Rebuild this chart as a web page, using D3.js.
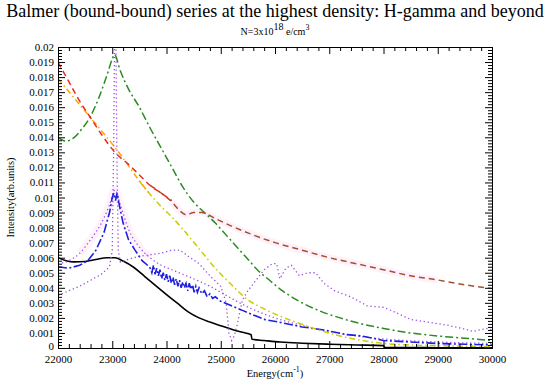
<!DOCTYPE html>
<html>
<head>
<meta charset="utf-8">
<script src="https://cdn.jsdelivr.net/npm/d3@7"></script>
<style>
  body { margin: 0; background: #fff; }
  svg { display: block; }
  .axis text { font-family: "Liberation Serif", serif; font-size: 11px; fill: #000; }
  .axis path, .axis line { stroke: #000; stroke-width: 1; }
</style>
</head>
<body>
<div id="chart"></div>
<script>
//Axis ticks and labels
var xMajorTicks = [22000, 23000, 24000, 25000, 26000, 27000, 28000, 29000, 30000];
var yMajorTicks = [0, 0.001, 0.002, 0.003, 0.004, 0.005, 0.006, 0.007, 0.008, 0.009, 0.01,
    0.011, 0.012, 0.013, 0.014, 0.015, 0.016, 0.017, 0.018, 0.019, 0.02];
var yTickLabels = ["0", "0.001", "0.002", "0.003", "0.004", "0.005", "0.006", "0.007", "0.008", "0.009", "0.01",
    "0.011", "0.012", "0.013", "0.014", "0.015", "0.016", "0.017", "0.018", "0.019", "0.02"];

//Series, each one as [energy, intensity] pairs
var blackSolid = [[22000, 0.0060], [22150, 0.00580], [22300, 0.00572], [22500, 0.00575], [22700, 0.00588],
    [22900, 0.00600], [23050, 0.00600], [23200, 0.00578], [23400, 0.00535], [23600, 0.00475], [23800, 0.00415],
    [24000, 0.00355], [24200, 0.00298], [24400, 0.00240], [24600, 0.00200], [24800, 0.00172], [25000, 0.00148],
    [25200, 0.00125], [25400, 0.00104], [25560, 0.00088], [25575, 0.00058], [25800, 0.00050], [26100, 0.00040],
    [26500, 0.00032], [27000, 0.00025], [27500, 0.00020], [28000, 0.00016], [28020, 0.00004], [28500, 0.00003],
    [29000, 0.00002], [30000, 0.00001]];

var redDashed = [[22000, 0.0190], [22200, 0.0177], [22400, 0.0164], [22600, 0.0153], [22800, 0.0142],
    [23050, 0.0130], [23300, 0.0122], [23500, 0.0115], [23700, 0.0108], [23900, 0.0103], [24100, 0.0098]];

var brownDashed = [[23700, 0.0108], [23900, 0.0103], [24100, 0.0097], [24250, 0.0091], [24370, 0.00885],
    [24500, 0.0090], [24650, 0.0090], [24900, 0.0086], [25200, 0.0081], [25500, 0.00765], [26000, 0.0070],
    [26500, 0.0065], [27000, 0.0060], [27500, 0.0056], [28000, 0.0052], [28500, 0.0048], [29000, 0.00452],
    [29500, 0.0042], [30000, 0.00395]];

var orangeDashDot = [[22000, 0.0179], [22300, 0.0166], [22600, 0.0153], [22900, 0.0140], [23100, 0.0131],
    [23300, 0.0121], [23500, 0.0111], [23700, 0.0102]];

var yellowDashDot = [[23500, 0.0111], [23700, 0.0102], [23900, 0.0094], [24100, 0.0087], [24300, 0.0079],
    [24600, 0.0066], [24900, 0.0053], [25200, 0.0042], [25500, 0.0032], [25800, 0.0026], [26100, 0.0021],
    [26400, 0.0017], [26800, 0.0012], [27200, 0.0008], [27600, 0.0005], [28000, 0.0003], [28500, 0.0002],
    [29000, 0.00015], [30000, 0.0001]];

var greenDashDot = [[22000, 0.0140], [22150, 0.01375], [22300, 0.0140], [22450, 0.0146], [22600, 0.0154],
    [22750, 0.0166], [22900, 0.0181], [23000, 0.0192], [23040, 0.0195], [23150, 0.0184], [23300, 0.0172],
    [23500, 0.0160], [23700, 0.0146], [23900, 0.0133], [24100, 0.0120], [24300, 0.0107], [24500, 0.0097],
    [24700, 0.0090], [24900, 0.0083], [25100, 0.0075], [25300, 0.0067], [25500, 0.0059], [25700, 0.0051],
    [25900, 0.0045], [26100, 0.0039], [26400, 0.0032], [26800, 0.0025], [27200, 0.0020], [27600, 0.0016],
    [28000, 0.0013], [28500, 0.0010], [29000, 0.0008], [29500, 0.00065], [30000, 0.0005]];

var blueDashDot = [[22000, 0.0054], [22200, 0.0053], [22400, 0.0055], [22550, 0.0058], [22700, 0.0065],
    [22850, 0.0077], [22950, 0.0090], [23000, 0.0100], [23030, 0.0103], [23060, 0.0098], [23090, 0.0103],
    [23130, 0.0095], [23200, 0.0083], [23300, 0.0072], [23420, 0.0065], [23550, 0.0058], [23650, 0.0055],
    [23700, 0.0053], [23730, 0.0050], [23760, 0.0055], [23790, 0.0049], [23820, 0.0053], [23850, 0.0048],
    [23880, 0.0052], [23910, 0.0046], [23940, 0.0050], [23970, 0.0045], [24000, 0.0049], [24030, 0.0044],
    [24060, 0.0048], [24090, 0.0043], [24120, 0.0047], [24150, 0.0042], [24180, 0.0046], [24210, 0.0041],
    [24240, 0.0045], [24270, 0.0040], [24300, 0.0044], [24330, 0.0040], [24360, 0.0043], [24390, 0.0038],
    [24420, 0.0043], [24450, 0.0039], [24480, 0.0042], [24510, 0.0037], [24540, 0.0041], [24570, 0.0037],
    [24600, 0.0040], [24650, 0.0036], [24700, 0.0038], [24750, 0.0034], [24800, 0.0036], [24850, 0.0033],
    [24900, 0.0034], [25000, 0.0031], [25200, 0.0028], [25400, 0.0025], [25600, 0.0022], [25800, 0.0019],
    [26100, 0.0017], [26500, 0.0014], [26900, 0.0012], [27300, 0.0009], [27600, 0.0008], [28000, 0.0005],
    [28500, 0.0004], [29000, 0.0003], [29500, 0.00025], [30000, 0.0002]];

var purpleDottedA = [[22000, 0.0035], [22200, 0.0038], [22400, 0.0041], [22600, 0.0045], [22800, 0.0049],
    [22950, 0.0054], [23000, 0.0065], [23025, 0.0130], [23045, 0.0215], [23065, 0.0215], [23085, 0.0130],
    [23110, 0.0065], [23150, 0.0057], [23300, 0.0059], [23500, 0.0061], [23700, 0.0062], [23900, 0.0063],
    [24100, 0.0065], [24250, 0.0065], [24400, 0.0061], [24600, 0.0056], [24800, 0.0048], [25000, 0.0041],
    [25100, 0.0030], [25150, 0.0010], [25200, 0.0005], [25250, 0.0008], [25300, 0.0015], [25400, 0.0032],
    [25500, 0.0038], [25650, 0.0045], [25800, 0.0052], [25950, 0.0056], [26030, 0.0056], [26090, 0.0046],
    [26200, 0.0053], [26300, 0.0055], [26450, 0.0048], [26600, 0.0050], [26750, 0.0050], [26900, 0.0043],
    [27100, 0.0038], [27400, 0.0034], [27700, 0.0028], [28000, 0.0027], [28200, 0.0024], [28500, 0.0019],
    [28850, 0.0017], [29200, 0.0015], [29450, 0.0013], [29650, 0.0011], [29900, 0.0013], [30000, 0.0012]];

var purpleDottedB = [[22000, 0.0056], [22200, 0.0058], [22400, 0.0063], [22600, 0.0072], [22800, 0.0083],
    [22950, 0.0095], [23050, 0.0105], [23150, 0.0095], [23300, 0.0079], [23500, 0.0067], [23700, 0.0060],
    [23900, 0.0055], [24100, 0.0052], [24300, 0.0049], [24500, 0.0046], [24800, 0.0041], [25100, 0.0035],
    [25400, 0.0029], [25700, 0.0024], [26000, 0.0020], [26500, 0.0015], [27000, 0.0011], [27500, 0.0008],
    [28000, 0.0006], [29000, 0.0004], [30000, 0.0003]];

//Layout of the plot box
var width = 550, height = 382;
var margin = { left: 58, right: 58, top: 47, bottom: 34 };

var svg = d3.select("#chart").append("svg")
    .attr("width", width)
    .attr("height", height);

var x = d3.scaleLinear().domain([22000, 30000]).range([margin.left, width - margin.right]);
var y = d3.scaleLinear().domain([0, 0.02]).range([height - margin.bottom, margin.top]);

svg.append("clipPath").attr("id", "plot-clip")
    .append("rect")
    .attr("x", margin.left).attr("y", margin.top)
    .attr("width", x.range()[1] - x.range()[0])
    .attr("height", y.range()[0] - y.range()[1]);

var plot = svg.append("g").attr("clip-path", "url(#plot-clip)");

function makeLine(curve) {
    return d3.line()
        .x(function (d) { return x(d[0]); })
        .y(function (d) { return y(d[1]); })
        .curve(curve || d3.curveMonotoneX);
}

//Faint pink haze behind some curves
plot.append("path")
    .attr("d", makeLine()(brownDashed.filter(function (d) { return d[0] >= 24000 && d[0] <= 29400; })))
    .attr("fill", "none").attr("stroke", "#fef1fb").attr("stroke-width", 7);
plot.append("path")
    .attr("d", makeLine()(purpleDottedB.filter(function (d) { return d[0] >= 22400 && d[0] <= 23700; })))
    .attr("fill", "none").attr("stroke", "#fef3fb").attr("stroke-width", 8);

var series = [
    { data: blackSolid, color: "#000000", width: 1.6, dash: null },
    { data: purpleDottedB, color: "#9b4de8", width: 1.3, dash: "1.3,2.7" },
    { data: purpleDottedA, color: "#9b4de8", width: 1.3, dash: "1.3,2.7", curve: d3.curveLinear },
    { data: blueDashDot, color: "#1f1fe0", width: 1.6, dash: "9,2.5,2,2.5", curve: d3.curveLinear },
    { data: yellowDashDot, color: "#cccc00", width: 1.5, dash: "6,3,1.5,3" },
    { data: orangeDashDot, color: "#ffa500", width: 1.5, dash: "6,3,1.5,3" },
    { data: greenDashDot, color: "#2a8b22", width: 1.5, dash: "8,3,2,3" },
    { data: brownDashed, color: "#a0522d", width: 1.5, dash: "6,4" },
    { data: redDashed, color: "#ee2a20", width: 1.5, dash: "6,4" }
];

series.forEach(function (s) {
    plot.append("path")
        .attr("d", makeLine(s.curve)(s.data))
        .attr("fill", "none")
        .attr("stroke", s.color)
        .attr("stroke-width", s.width)
        .attr("stroke-dasharray", s.dash);
});

//Minor tick values
var xMinorTicks = d3.range(22000, 30001, 200).filter(function (v) { return v % 1000 !== 0; });
var yMinorTicks = d3.range(0, 201, 2).map(function (v) { return v / 10000; })
    .filter(function (v) { return Math.round(v * 10000) % 10 !== 0; });

function labelY(d) {
    return yTickLabels[yMajorTicks.indexOf(d)];
}

var bottomY = y.range()[0], topY = y.range()[1];
var leftX = x.range()[0], rightX = x.range()[1];

//Bottom and top axes (ticks point into the plot)
svg.append("g").attr("class", "axis").attr("transform", "translate(0," + bottomY + ")")
    .call(d3.axisBottom(x).tickValues(xMinorTicks).tickSize(-4).tickSizeOuter(0).tickFormat(""));
svg.append("g").attr("class", "axis").attr("transform", "translate(0," + bottomY + ")")
    .call(d3.axisBottom(x).tickValues(xMajorTicks).tickSize(-7).tickSizeOuter(0).tickPadding(7).tickFormat(d3.format("d")));
svg.append("g").attr("class", "axis").attr("transform", "translate(0," + topY + ")")
    .call(d3.axisTop(x).tickValues(xMinorTicks).tickSize(-4).tickSizeOuter(0).tickFormat(""));
svg.append("g").attr("class", "axis").attr("transform", "translate(0," + topY + ")")
    .call(d3.axisTop(x).tickValues(xMajorTicks).tickSize(-7).tickSizeOuter(0).tickFormat(""));

//Left and right axes
svg.append("g").attr("class", "axis").attr("transform", "translate(" + leftX + ",0)")
    .call(d3.axisLeft(y).tickValues(yMinorTicks).tickSize(-4).tickSizeOuter(0).tickFormat(""));
svg.append("g").attr("class", "axis").attr("transform", "translate(" + leftX + ",0)")
    .call(d3.axisLeft(y).tickValues(yMajorTicks).tickSize(-7).tickSizeOuter(0).tickPadding(4).tickFormat(labelY));
svg.append("g").attr("class", "axis").attr("transform", "translate(" + rightX + ",0)")
    .call(d3.axisRight(y).tickValues(yMinorTicks).tickSize(-4).tickSizeOuter(0).tickFormat(""));
svg.append("g").attr("class", "axis").attr("transform", "translate(" + rightX + ",0)")
    .call(d3.axisRight(y).tickValues(yMajorTicks).tickSize(-7).tickSizeOuter(0).tickFormat(""));

//Nudge the "0" label up so it clears the first x label
svg.selectAll(".axis .tick text").filter(function (d) { return d === 0; })
    .attr("dy", "0.1em");

//Titles
svg.append("text")
    .attr("x", width / 2).attr("y", 17)
    .attr("text-anchor", "middle")
    .style("font-family", "Liberation Serif, serif")
    .style("font-size", "18px")
    .text("Balmer (bound-bound) series at the highest density: H-gamma and beyond");

var sub = svg.append("text")
    .attr("x", width / 2).attr("y", 35)
    .attr("text-anchor", "middle")
    .style("font-family", "Liberation Serif, serif")
    .style("font-size", "10px");
sub.append("tspan").text("N=3x10");
sub.append("tspan").attr("dy", -5).style("font-size", "10px").text("18");
sub.append("tspan").attr("dy", 5).text(" e/cm");
sub.append("tspan").attr("dy", -5).style("font-size", "8px").text("3");

var xl = svg.append("text")
    .attr("x", width / 2).attr("y", 377)
    .attr("text-anchor", "middle")
    .style("font-family", "Liberation Serif, serif")
    .style("font-size", "10.5px");
xl.append("tspan").text("Energy(cm");
xl.append("tspan").attr("dy", -5).style("font-size", "8px").text("-1");
xl.append("tspan").attr("dy", 5).text(")");

svg.append("text")
    .attr("transform", "translate(14," + ((topY + bottomY) / 2) + ") rotate(-90)")
    .attr("text-anchor", "middle")
    .style("font-family", "Liberation Serif, serif")
    .style("font-size", "10.5px")
    .text("Intensity(arb.units)");
</script>
</body>
</html>
